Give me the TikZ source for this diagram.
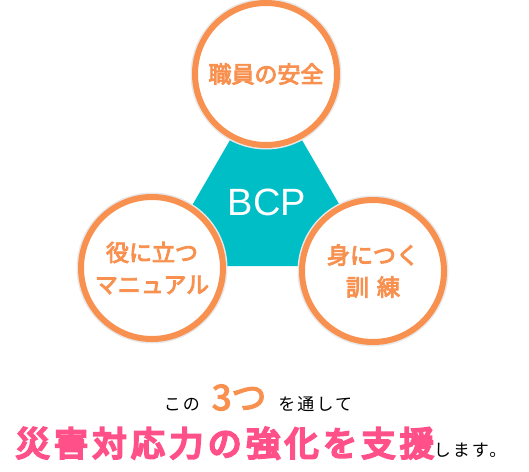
\documentclass[tikz,border=0pt]{standalone}
\usepackage{fontspec}
\usepackage{xcolor}
\setmainfont{Liberation Sans}
\newfontfamily\jp{Noto Sans CJK JP}
\newfontfamily\jpbold[FakeBold=4]{Noto Sans CJK JP}
\newfontfamily\jpheavy[FakeBold=7,LetterSpace=13]{Noto Sans CJK JP}
\newfontfamily\jpsmall[LetterSpace=12]{Noto Sans CJK JP}
\definecolor{bcporange}{HTML}{F8914F}
\definecolor{bcpteal}{HTML}{00BEC6}
\definecolor{bcppink}{HTML}{FF5089}
\begin{document}
\begin{tikzpicture}[
        x=1pt, y=-1pt,
        pillar/.style = {circle, draw=bcporange, line width=6pt, fill=white, minimum size=142pt,
                         text=bcporange, font=\jpbold\fontsize{23}{32}\selectfont, align=center},
        halo/.style = {circle, fill=black!9, minimum size=151pt, draw=none}
    ]
    \useasboundingbox (0,0) rectangle (529,471);

    % BCP triangle in the middle
    \coordinate (apex) at (266,78);
    \coordinate (baseL) at (157,266);
    \coordinate (baseR) at (375,266);
    \fill[bcpteal] (apex) -- (baseL) -- (baseR) -- cycle;
    \node[text=white, font=\fontsize{38}{38}\selectfont] (bcp) at (267,202) {BCP};

    % soft shadows under the circles
    \node[halo] at (266,74) {};
    \node[halo] at (152,268) {};
    \node[halo] at (373,271) {};

    % the three pillars
    \node[pillar] (safety) at (266,74) {職員の安全};
    \node[pillar] (manual) at (152,268) {役に立つ\\マニュアル};
    \node[pillar] (training) at (373,271) {身につく\\訓\hspace{8pt}練};

    % message below
    \node[anchor=base, font=\jpsmall\fontsize{17}{17}\selectfont] (line1) at (258,410)
        {この\hspace{12pt}{\jpbold\color{bcporange}\fontsize{35}{35}\selectfont 3つ}\hspace{12pt}を通して};
    \node[anchor=base, font=\jp\fontsize{17}{17}\selectfont] (line2) at (261,456)
        {{\jpheavy\color{bcppink}\fontsize{34}{34}\selectfont 災害対応力の強化を支援}{\jpsmall します。}};
\end{tikzpicture}
\end{document}
